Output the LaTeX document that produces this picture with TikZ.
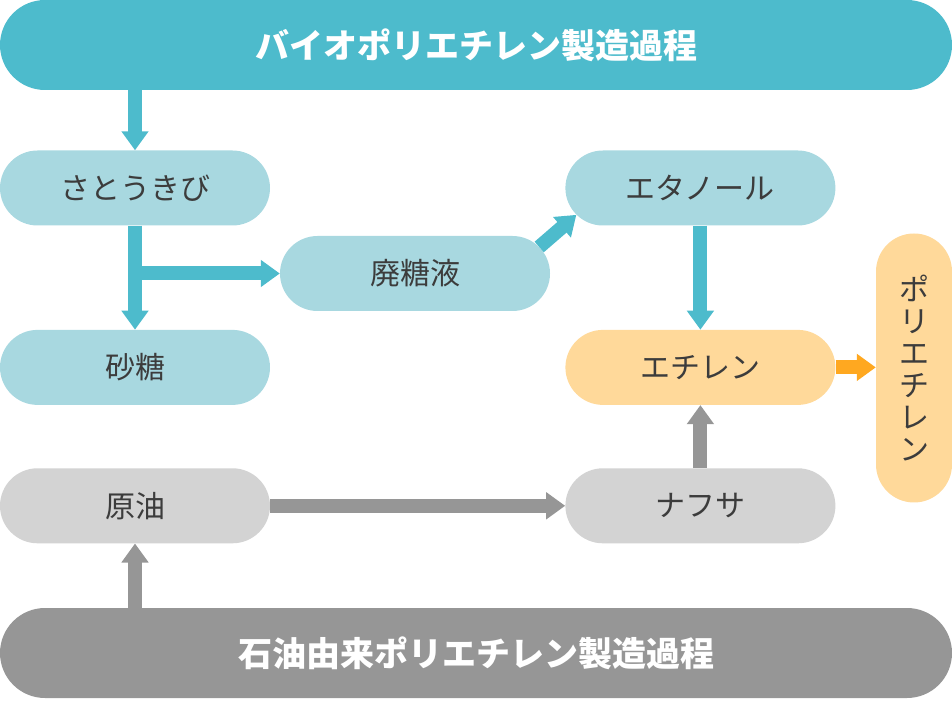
\documentclass[tikz,border=0pt]{standalone}
\usepackage{fontspec}
\setmainfont{Noto Sans CJK JP}
\usepackage{tikz}
\usetikzlibrary{calc, positioning, arrows.meta}
\definecolor{bioteal}{RGB}{77,187,204}
\definecolor{biolight}{RGB}{168,216,224}
\definecolor{pelight}{RGB}{255,217,154}
\definecolor{pearrow}{RGB}{255,168,32}
\definecolor{oillight}{RGB}{211,211,211}
\definecolor{oildark}{RGB}{150,150,150}
\definecolor{textgray}{RGB}{60,60,60}
\tikzset{
 block/.style = {
    rectangle, fill=biolight,
    minimum width=270pt,
    minimum height=75pt,
    rounded corners=37.5pt,
    text=textgray, align=center,
    font=\fontsize{30pt}{32pt}\selectfont},
 bar/.style = {
    rectangle, fill=bioteal,
    minimum width=952pt,
    minimum height=90pt,
    rounded corners=45pt,
    text=white,
    font=\fontsize{34pt}{36pt}\selectfont\bfseries},
 line/.style = {
    draw=bioteal, line width=14pt,
    -{Triangle[width=26pt,length=19pt]}},
}

\begin{document}
\begin{tikzpicture}[x=1pt, y=1pt]
    \useasboundingbox (0,0) rectangle (952,704);

    % Place nodes
    \node [bar]                                   (bio)       at (476,659) {バイオポリエチレン製造過程};
    \node [block]                                 (cane)      at (135,516) {さとうきび};
    \node [block, below=104pt of cane]            (sugar)     {砂糖};
    \node [block, right=295pt of cane]            (ethanol)   {エタノール};
    \node [block]                                 (molasses)  at (415,430.5) {廃糖液};
    \node [block, fill=pelight, below=104pt of ethanol] (ethylene)  {エチレン};
    \node [block, fill=pelight, minimum width=76pt, minimum height=269pt,
           rounded corners=38pt]                  (pe)        at (914,336) {ポ\\リ\\エ\\チ\\レ\\ン};
    \node [block, fill=oillight, below=63pt of sugar]   (crude)     {原油};
    \node [block, fill=oillight, below=63pt of ethylene] (naphtha)  {ナフサ};
    \node [bar, fill=oildark]                     (oil)       at (476,51) {石油由来ポリエチレン製造過程};

    \coordinate (molasses out) at ($(molasses.east)+(-37.5pt,0)+(45:37.5pt)$);
    \coordinate (ethanol in)   at ($(ethanol.west)+(38pt,0)+(225:38pt)$);

    \path [line] (cane.north |- bio.south) -- (cane.north);
    \path [line] (cane.south) -- (sugar.north);
    \path [line] (cane.south |- molasses.west) -- (molasses.west);
    \path [line] (molasses out) -- (ethanol in);
    \path [line] (ethanol.south) -- (ethylene.north);
    \path [line, draw=pearrow] (ethylene.east) -- (ethylene.east -| pe.west);
    \path [line, draw=oildark] (naphtha.north) -- (ethylene.south);
    \path [line, draw=oildark] (crude.east) -- (naphtha.west);
    \path [line, draw=oildark] (crude.south |- oil.north) -- (crude.south);

\end{tikzpicture}
\end{document}
